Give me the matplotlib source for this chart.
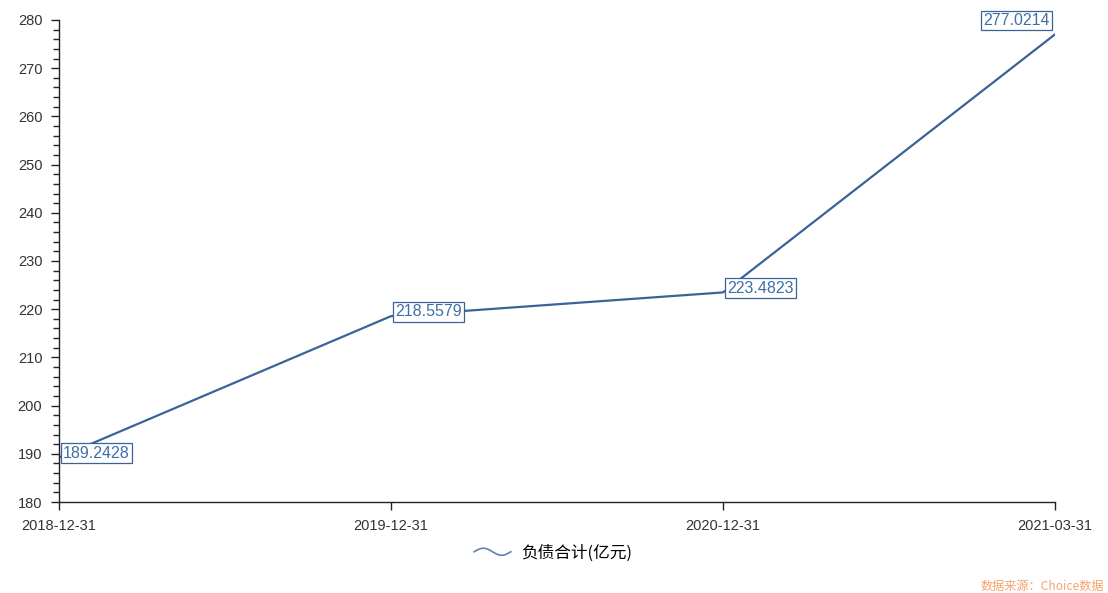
import numpy as np
import matplotlib
matplotlib.use("Agg")
import matplotlib.pyplot as plt
from matplotlib.lines import Line2D
from matplotlib.legend_handler import HandlerBase
from matplotlib.ticker import MultipleLocator

plt.rcParams['font.family'] = ['Liberation Sans', 'Noto Sans CJK SC', 'DejaVu Sans']

categories = ['2018-12-31', '2019-12-31', '2020-12-31', '2021-03-31']
values = [189.2428, 218.5579, 223.4823, 277.0214]
series_name = '负债合计(亿元)'
source_text = '数据来源：Choice数据'

line_color = '#3a6397'
label_color = '#3f6fa8'

fig = plt.figure(figsize=(11.08, 5.93), dpi=100)
ax = fig.add_axes([59/1108, 91/593, (1055-59)/1108, (502-20)/593])

x = np.arange(len(categories))
ax.plot(x, values, color=line_color, lw=1.6, label=series_name)

ax.set_xlim(x[0], x[-1])
ax.set_ylim(180, 280)
ax.set_xticks(x)
ax.set_xticklabels(categories)
ax.yaxis.set_major_locator(MultipleLocator(10))
ax.yaxis.set_minor_locator(MultipleLocator(2))
for s in ['top', 'right']:
    ax.spines[s].set_visible(False)
for s in ['left', 'bottom']:
    ax.spines[s].set_color('#222222')
    ax.spines[s].set_linewidth(1)
ax.tick_params(axis='both', which='major', length=6, width=1, color='#222222',
               labelsize=10.5, labelcolor='#333333', pad=6)
ax.tick_params(axis='y', which='minor', length=4, width=1, color='#222222')

for i, (xi, v) in enumerate(zip(x, values)):
    last = i == len(values) - 1
    ax.annotate(f'{v:.4f}', xy=(xi, v),
                xytext=(-4, 10) if last else (3, 3),
                textcoords='offset points',
                ha='right' if last else 'left', va='center',
                fontsize=11.5, color=label_color,
                bbox=dict(boxstyle='square,pad=0.15', fc='white', ec=line_color, lw=0.9))


class WaveHandler(HandlerBase):
    def create_artists(self, legend, orig_handle, xdescent, ydescent, width, height, fontsize, trans):
        t = np.linspace(0, 1, 50)
        xs = -xdescent + t * width
        ys = -ydescent + height / 2 + np.sin(t * 2 * np.pi) * height * 0.3
        ln = Line2D(xs, ys, color=line_color, lw=1.2, alpha=0.8)
        ln.set_transform(trans)
        return [ln]


handle = Line2D([], [], color=line_color)
fig.legend([handle], [series_name], handler_map={Line2D: WaveHandler()},
           loc='center', bbox_to_anchor=(553/1108, 1 - 553/593), frameon=False,
           handlelength=2.2, handletextpad=0.6,
           prop={'family': ['Noto Sans CJK SC', 'DejaVu Sans'], 'size': 12})

fig.text(1104/1108, 1 - 586/593, source_text, ha='right', va='center',
         fontsize=8.7, color='#f5a36a', family=['Noto Sans CJK SC', 'DejaVu Sans'])

fig.savefig('out.png', dpi=100)
